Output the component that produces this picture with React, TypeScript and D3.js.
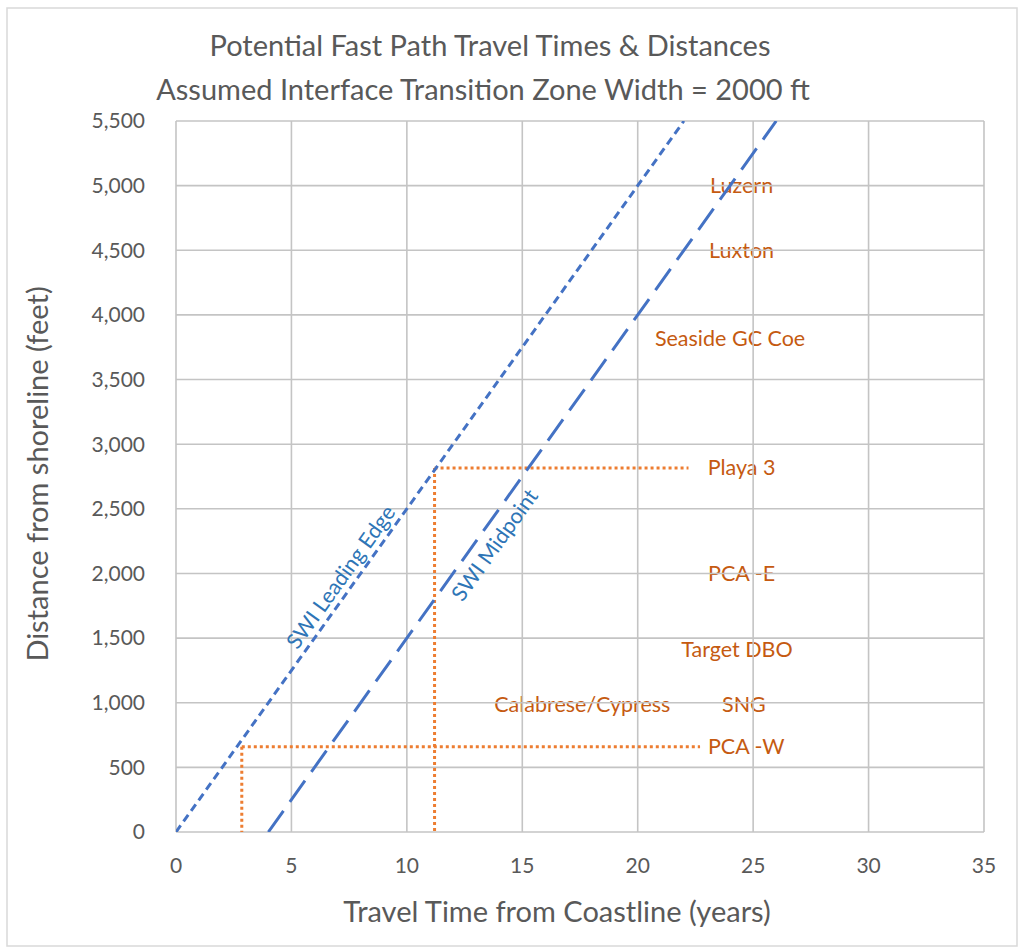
import React from 'react';
import * as d3 from 'd3';

// SWI front lines (years, feet)
const leadingEdge: [number, number][] = [[0, 0], [22, 5500]];
const midpoint: [number, number][] = [[4, 0], [26, 5500]];

// dotted travel-time guides: corner point and end of horizontal run
const guides = [
  { t: 11.2, d: 2815, tEnd: 22.2 },
  { t: 2.85, d: 660, tEnd: 22.7 },
];

// well labels
const wellNames = ['Luzern', 'Luxton', 'Seaside GC Coe', 'Playa 3', 'PCA -E', 'Target DBO', 'Calabrese/Cypress', 'SNG', 'PCA -W'];
const wellTimes = [24.5, 24.5, 24.0, 24.5, 24.5, 24.3, 17.6, 24.6, 24.7];
const wellDists = [5000, 4500, 3820, 2820, 2000, 1415, 985, 990, 660];

const xTicks = [0, 5, 10, 15, 20, 25, 30, 35];
const yTicks = [0, 500, 1000, 1500, 2000, 2500, 3000, 3500, 4000, 4500, 5000, 5500];

const W = 1022;
const H = 951;
const margin = { left: 176, right: 38, top: 121, bottom: 119 };
const font = 'Lato, "Open Sans", sans-serif';

export default function App() {
  const x = d3.scaleLinear().domain([0, 35]).range([margin.left, W - margin.right]);
  const y = d3.scaleLinear().domain([0, 5500]).range([H - margin.bottom, margin.top]);
  const line = d3.line<[number, number]>().x(d => x(d[0])).y(d => y(d[1]));
  const fmt = d3.format(',');

  // angle of the SWI lines on screen
  const ang = -Math.atan2(y(0) - y(250), x(1) - x(0)) * 180 / Math.PI;

  const gridColor = '#c4c4c4';

  return (
    <svg width={W} height={H} style={{ position: 'absolute', left: 0, top: 0, background: '#fff' }} fontFamily={font}>
      <defs>
        <clipPath id="plot">
          <rect x={margin.left} y={margin.top} width={W - margin.left - margin.right} height={H - margin.top - margin.bottom} />
        </clipPath>
      </defs>
      <rect x={7} y={8} width={1010} height={938} fill="#fff" stroke="#d9d9d9" strokeWidth={1.5} />

      {/* title */}
      <text x={490} y={56} textAnchor="middle" fontSize={29} fill="#595959">Potential Fast Path Travel Times &amp; Distances</text>
      <text x={483} y={100} textAnchor="middle" fontSize={29} fill="#595959">Assumed Interface Transition Zone Width = 2000 ft</text>

      {/* well labels (drawn under the grid like the original) */}
      {wellNames.map((n, i) => (
        <text key={n} x={x(wellTimes[i])} y={y(wellDists[i])} dy="0.35em" textAnchor="middle" fontSize={21.5} fill="#C55A11">{n}</text>
      ))}

      {/* grid */}
      {yTicks.map(v => (
        <line key={'h' + v} x1={x(0)} x2={x(35)} y1={y(v)} y2={y(v)} stroke={gridColor} strokeWidth={1.6} />
      ))}
      {xTicks.map(v => (
        <line key={'v' + v} x1={x(v)} x2={x(v)} y1={y(0)} y2={y(5500)} stroke={gridColor} strokeWidth={1.6} />
      ))}

      {/* tick labels */}
      {yTicks.map(v => (
        <text key={'yl' + v} x={145} y={y(v)} dy="0.35em" textAnchor="end" fontSize={21} fill="#595959">{fmt(v)}</text>
      ))}
      {xTicks.map(v => (
        <text key={'xl' + v} x={x(v)} y={y(0) + 41} textAnchor="middle" fontSize={21} fill="#595959">{v}</text>
      ))}

      {/* axis titles */}
      <text x={557} y={922} textAnchor="middle" fontSize={29} fill="#595959">Travel Time from Coastline (years)</text>
      <text transform={`translate(48,${474}) rotate(-90)`} textAnchor="middle" fontSize={29} fill="#595959">Distance from shoreline (feet)</text>

      <g clipPath="url(#plot)">
        {/* dotted guides */}
        {guides.map((g, i) => (
          <g key={i} stroke="#ED7D31" strokeWidth={3} strokeDasharray="3,3" fill="none">
            <line x1={x(g.t)} x2={x(g.tEnd)} y1={y(g.d)} y2={y(g.d)} />
            <line x1={x(g.t)} x2={x(g.t)} y1={y(g.d)} y2={y(0)} />
          </g>
        ))}
        {/* SWI lines */}
        <path d={line(leadingEdge) || ''} fill="none" stroke="#4472C4" strokeWidth={3} strokeDasharray="8,5" />
        <path d={line(midpoint) || ''} fill="none" stroke="#4472C4" strokeWidth={3} strokeDasharray="26,11" />
      </g>

      {/* line labels */}
      <text transform={`translate(${x(7.14)},${y(1972)}) rotate(${ang})`} dy="0.35em" textAnchor="middle" fontSize={21.5} fill="#2E75B6">SWI Leading Edge</text>
      <text transform={`translate(${x(13.8)},${y(2220)}) rotate(${ang})`} dy="0.35em" textAnchor="middle" fontSize={21.5} fill="#2E75B6">SWI Midpoint</text>
    </svg>
  );
}
